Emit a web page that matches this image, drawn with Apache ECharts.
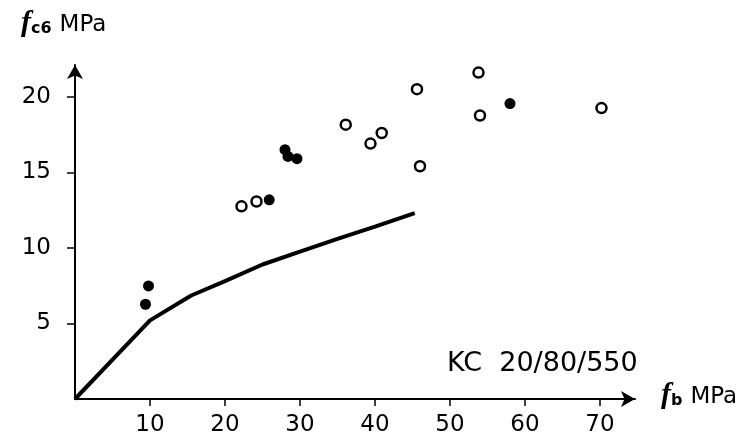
<!DOCTYPE html>
<html>
<head>
<meta charset="UTF-8">
<title>fc6 vs fb</title>
<script src="https://cdn.jsdelivr.net/npm/echarts@6/dist/echarts.min.js"></script>
</head>
<body style="margin:0">
<div id="main" style="width:748px;height:440px;"></div>
<script type="text/javascript">
// tick labels
var xTicks = [10, 20, 30, 40, 50, 60, 70];
var yTicks = [5, 10, 15, 20];

// measured points [fb, fc6]
var openPts = [[22.2, 12.75], [24.2, 13.07], [36.1, 18.15], [39.4, 16.9], [40.9, 17.6],
               [45.6, 20.5], [46.0, 15.4], [53.8, 21.6], [54.0, 18.76], [70.2, 19.25]];
var filledPts = [[9.4, 6.27], [9.8, 7.48], [25.9, 13.18], [28.0, 16.5], [28.4, 16.05],
                 [29.6, 15.9], [58.0, 19.55]];
// curve
var curve = [[0, 0], [10, 5.2], [15.5, 6.85], [20, 7.8], [25, 8.9], [30, 9.75],
             [35, 10.6], [40, 11.4], [45.3, 12.3]];

var myChart = echarts.init(document.getElementById('main'));
var font = 'DejaVu Sans';

// rich text for the axis names: italic f, bold subscript, then unit
var nameRich = {
    f: { font: 'italic bold 30px "Liberation Serif"', fill: '#000' },
    s: { font: 'bold 16px "DejaVu Sans"', fill: '#000', padding: [12, 0, 0, 0] },
    u: { font: '23px "DejaVu Sans"', fill: '#000', padding: [4, 0, 0, 8] }
};

var option = {
    animation: false,
    backgroundColor: '#fff',
    grid: { left: 75, right: 113, top: 65, bottom: 41 },
    xAxis: {
        type: 'value', min: 0, max: 74.67,
        splitLine: { show: false },
        axisLine: { lineStyle: { color: '#000', width: 2 }, symbol: ['none', 'arrow'], symbolSize: [12, 14] },
        axisTick: { customValues: xTicks, length: 7, lineStyle: { color: '#000', width: 1.5 } },
        axisLabel: { customValues: xTicks, color: '#000', fontFamily: font, fontSize: 23, margin: 15 }
    },
    yAxis: {
        type: 'value', min: 0, max: 22.1,
        splitLine: { show: false },
        axisLine: { lineStyle: { color: '#000', width: 2 }, symbol: ['none', 'arrow'], symbolSize: [12, 14] },
        axisTick: { customValues: yTicks, length: 8, lineStyle: { color: '#000', width: 1.5 } },
        axisLabel: { customValues: yTicks, color: '#000', fontFamily: font, fontSize: 23, margin: 24 }
    },
    graphic: [
        {
            type: 'text', left: 21, top: 8,
            style: { text: '{f|f}{s|c6}{u|MPa}', rich: nameRich }
        },
        {
            type: 'text', left: 661, top: 380,
            style: { text: '{f|f}{s|b}{u|MPa}', rich: nameRich }
        },
        {
            type: 'text', left: 447, top: 350,
            style: { text: 'KC  20/80/550', font: '27px "DejaVu Sans"', fill: '#000' }
        }
    ],
    series: [
        {
            type: 'line', data: curve, symbol: 'none', smooth: false,
            lineStyle: { color: '#000', width: 4 }
        },
        {
            type: 'scatter', data: openPts, symbol: 'circle', symbolSize: 10,
            itemStyle: { color: '#fff', borderColor: '#000', borderWidth: 2.5, opacity: 1 }
        },
        {
            type: 'scatter', data: filledPts, symbol: 'circle', symbolSize: 11,
            itemStyle: { color: '#000', opacity: 1 }
        }
    ]
};
myChart.setOption(option);
</script>
</body>
</html>
